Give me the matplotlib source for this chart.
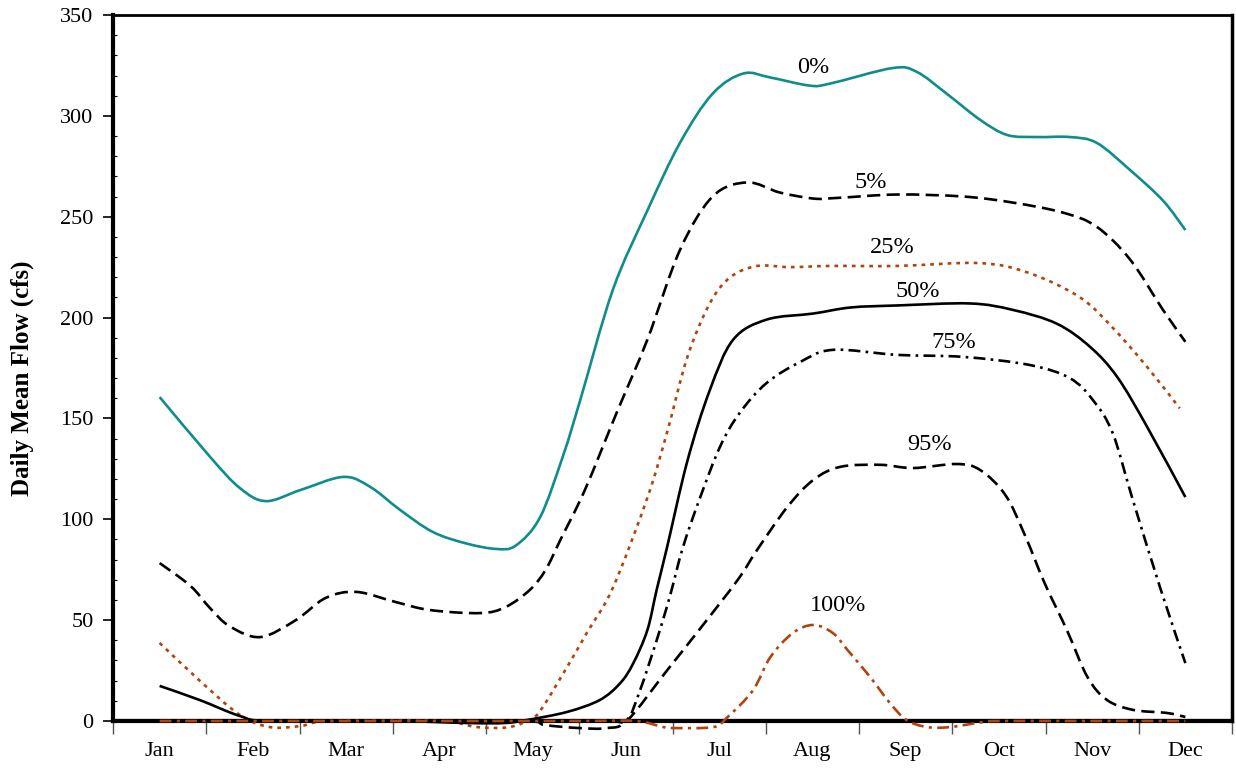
import matplotlib
matplotlib.use("Agg")
import matplotlib.pyplot as plt
from matplotlib.path import Path
from matplotlib.patches import PathPatch
from matplotlib.ticker import MultipleLocator, FixedLocator, NullFormatter

months = ["Jan", "Feb", "Mar", "Apr", "May", "Jun", "Jul", "Aug", "Sep", "Oct", "Nov", "Dec"]

# x positions are in month units (Jan centre = 0.5, Dec centre = 11.5)
x_p0 = [0.5, 1.04, 1.36, 1.64, 2.01, 2.47, 2.76, 3.08, 3.43, 3.79, 4.11, 4.32, 4.58, 4.83,
        5.01, 5.36, 5.73, 6.08, 6.43, 6.76, 7.05, 7.47, 7.69, 8.36, 8.62, 8.94, 9.30, 9.59,
        9.91, 10.26, 10.55, 10.91, 11.26, 11.5]
y_p0 = [160.6, 131, 115.5, 109, 114.5, 121, 116, 104.6, 93.7, 88, 85.3, 87, 101, 132,
        159, 213.7, 253, 286.6, 311, 321, 319, 315, 316, 323.7, 321.8, 311, 298, 290.5,
        289.5, 289.5, 286.6, 273, 258, 243.4]

x_p5 = [0.5, 0.83, 1.04, 1.25, 1.58, 1.96, 2.28, 2.61, 3.03, 3.40, 3.94, 4.21, 4.47, 4.64, 4.80,
        5.06, 5.40, 5.73, 6.08, 6.43, 6.80, 7.15, 7.51, 7.76, 8.41, 9.12, 9.65, 10.19, 10.55,
        10.91, 11.26, 11.5]
y_p5 = [78.3, 67, 56, 47, 41.6, 50, 61, 64, 59, 55, 53.5, 56.5, 65, 75, 90,
        114.5, 152.7, 189, 233.5, 260, 267, 262, 259, 259.3, 261, 260, 257, 252, 245,
        228.6, 203.8, 188]

x_p25 = [0.5, 0.93, 1.36, 1.68, 2.01, 2.33, 3.50, 3.90, 4.25, 4.50, 4.61, 4.87, 5.08, 5.36,
         5.73, 5.94, 6.16, 6.40, 6.62, 6.91, 7.26, 7.69, 8.41, 9.30, 9.83, 10.37, 10.72, 11.09, 11.44]
y_p25 = [38.7, 20, 3, -3, -2.5, 0, 0, -3, -3, 1.5, 7, 26.8, 43.6, 66,
         110.6, 142.8, 180.5, 207, 220, 225.6, 225, 225.6, 225.6, 227, 222, 210, 195, 175.5, 155]

x_p50 = [0.5, 0.93, 1.36, 1.68, 3.00, 3.80, 4.20, 4.44, 4.87, 5.22, 5.44, 5.58, 5.73, 5.83, 5.94,
         6.16, 6.40, 6.65, 7.01, 7.51, 7.91, 8.41, 9.19, 9.65, 10.12, 10.48, 10.77, 11.09, 11.5]
y_p50 = [17.4, 10.4, 2.5, 0, 0, -1, -1, 0.5, 4.5, 10.4, 18.8, 28.7, 45, 65, 85.8,
         129, 164, 189, 199, 202, 205, 206, 207, 203.8, 197, 185.4, 170.5, 145.8, 111]

x_p75 = [0.5, 2.0, 3.5, 4.5, 5.3, 5.51, 5.65, 5.83, 5.97, 6.11, 6.29, 6.51, 6.72, 7.01, 7.37, 7.72,
         8.41, 9.12, 9.83, 10.26, 10.51, 10.72, 10.93, 11.23, 11.5]
y_p75 = [0, 0, 0, 0, 0, 0.5, 15, 40, 61.5, 85.8, 110, 136, 152.7, 167.6, 178, 184,
         181.5, 180.5, 176.5, 170, 159, 142.8, 110.6, 66, 28.7]

x_p95 = [0.5, 2.0, 3.5, 4.45, 4.63, 5.00, 5.30, 5.52, 5.94, 6.30, 6.70, 6.91, 7.23, 7.51, 7.80,
         8.23, 8.58, 9.05, 9.30, 9.57, 9.78, 9.99, 10.23, 10.45, 10.66, 10.94, 11.30, 11.5]
y_p95 = [0, 0, 0, 0, -2, -3.5, -3.5, 0.5, 25, 46, 70, 85, 106, 119.5, 126,
         127, 125.4, 127.4, 124.4, 112, 92, 68.4, 45, 21.8, 10.4, 5.5, 4, 2]

x_p100 = [0.5, 2.0, 3.5, 5.0, 5.6, 5.9, 6.01, 6.44, 6.58, 6.86, 7.05, 7.29, 7.51, 7.72, 7.88,
          8.12, 8.33, 8.51, 8.73, 8.98, 9.33, 9.5, 10.5, 11.5]
y_p100 = [0, 0, 0, 0, 0, -3, -3.5, -3, 1.5, 15, 31.7, 43.6, 47.6, 43.6, 35,
          21.8, 9, 0.5, -3, -3, -0.5, 0, 0, 0]

labels = ["0%", "5%", "25%", "50%", "75%", "95%", "100%"]
label_x = [7.51, 8.13, 8.36, 8.63, 9.02, 8.76, 7.78]
label_y = [324.2, 267.2, 234.5, 212.7, 187.4, 137.3, 57.5]

teal = "#0F8C8C"
rust = "#B0440E"

plt.rcParams['font.family'] = ['Liberation Serif', 'DejaVu Serif']


def smooth_path(xs, ys):
    """Spreadsheet-style smoothed line: cubic Bezier segments through every data point."""
    n = len(xs)
    verts = [(xs[0], ys[0])]
    codes = [Path.MOVETO]
    for i in range(n - 1):
        x0, y0 = (xs[i - 1], ys[i - 1]) if i > 0 else (xs[i], ys[i])
        x1, y1 = xs[i], ys[i]
        x2, y2 = xs[i + 1], ys[i + 1]
        x3, y3 = (xs[i + 2], ys[i + 2]) if i + 2 < n else (x2, y2)
        c1 = (x1 + (x2 - x0) / 6.0, y1 + (y2 - y0) / 6.0)
        c2 = (x2 - (x3 - x1) / 6.0, y2 - (y3 - y1) / 6.0)
        verts += [c1, c2, (x2, y2)]
        codes += [Path.CURVE4] * 3
    return Path(verts, codes)


fig = plt.figure(figsize=(12.36, 7.72), dpi=100)
ax = fig.add_axes([113/1236, 1 - 721/772, (1232 - 113)/1236, (721 - 15)/772])

lw = 1.9
series = [
    (x_p0, y_p0, teal, '-', 5),
    (x_p5, y_p5, 'black', (0, (5, 2.4)), 5),
    (x_p25, y_p25, rust, (0, (1.4, 1.9)), 5),
    (x_p50, y_p50, 'black', '-', 5),
    (x_p75, y_p75, 'black', (0, (4.5, 2, 1, 2)), 5),
    (x_p95, y_p95, 'black', (0, (5, 2.4)), 5),
    (x_p100, y_p100, rust, (0, (4.5, 2, 1.2, 2)), 6),
]
for xs, ys, col, ls, z in series:
    patch = PathPatch(smooth_path(xs, ys), fill=False, edgecolor=col, lw=lw,
                      linestyle=ls, capstyle='butt', joinstyle='round', zorder=z)
    patch.set_clip_on(False)
    ax.add_patch(patch)

for t, lx, ly in zip(labels, label_x, label_y):
    ax.text(lx, ly, t, fontsize=17.5, ha='center', va='center', zorder=7)

ax.axhline(0, color="black", lw=3, zorder=4)

ax.set_xlim(0, 12)
ax.set_ylim(0, 350)

ax.xaxis.set_major_locator(FixedLocator(range(13)))
ax.xaxis.set_major_formatter(NullFormatter())
ax.set_xticks([i + 0.5 for i in range(12)], minor=True)
ax.set_xticklabels(months, minor=True)
ax.tick_params(axis='x', which='major', direction='out', length=9, width=1.0, color='#555555')
ax.tick_params(axis='x', which='minor', length=0, pad=15, labelsize=16)

ax.yaxis.set_major_locator(MultipleLocator(50))
ax.yaxis.set_minor_locator(MultipleLocator(10))
ax.tick_params(axis='y', which='major', direction='out', length=7, width=1.2, labelsize=16, pad=7)
ax.tick_params(axis='y', which='minor', direction='in', length=3, width=0.8)

ax.spines['left'].set_linewidth(3)
ax.spines['bottom'].set_linewidth(3)
ax.spines['top'].set_linewidth(2)
ax.spines['right'].set_linewidth(2.5)

fig.text(22/1236, 1 - 378/772, "Daily Mean Flow (cfs)", fontsize=18, fontweight='bold',
         rotation=90, ha='center', va='center')

fig.savefig("out.png", dpi=100)
